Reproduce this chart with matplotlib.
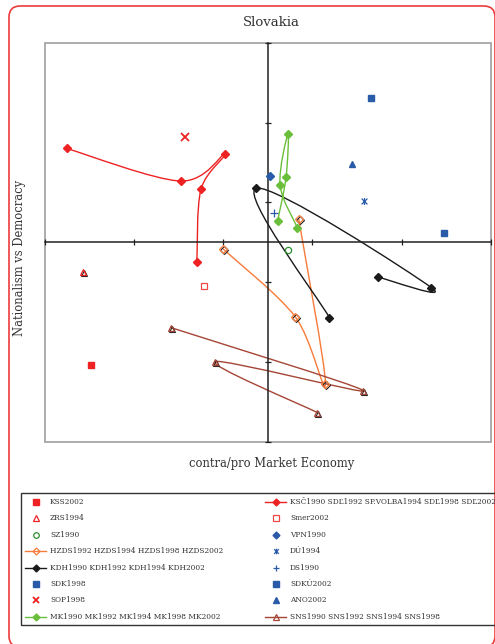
import numpy as np
import matplotlib
matplotlib.use('Agg')
import matplotlib.pyplot as plt
from matplotlib.path import Path
from matplotlib.patches import PathPatch, FancyBboxPatch, Rectangle
from matplotlib.lines import Line2D
from matplotlib import transforms

# ---------------- data ----------------
kss2002 = (-1.98, -1.533)
zrs1994 = (-2.07, -0.374)
sz1990 = (0.23, -0.09)
sdk1998 = (1.155, 1.809)
sop1998 = (-0.935, 1.315)
smer2002 = (-0.721, -0.546)
vpn1990 = (0.028, 0.83)
du1994 = (1.084, 0.517)
ds1990 = (0.073, 0.366)
sdku2002 = (1.98, 0.123)
ano2002 = (0.946, 0.981)

ksc_x = [-2.256, -0.979, -0.481, -0.750, -0.796]
ksc_y = [1.177, 0.769, 1.111, 0.668, -0.241]
hzds_x = [-0.503, 0.306, 0.646, 0.346]
hzds_y = [-0.082, -0.931, -1.775, 0.295]
kdh_x = [0.691, -0.129, 1.834, 1.238]
kdh_y = [-0.944, 0.678, -0.567, -0.437]
mk_x = [0.110, 0.204, 0.227, 0.137, 0.331]
mk_y = [0.274, 0.815, 1.365, 0.720, 0.185]
sns_x = [-1.088, 1.073, -0.593, 0.556]
sns_y = [-1.069, -1.859, -1.496, -2.135]

ticks = [-2.5, -1.5, -0.5, 0.5, 1.5, 2.5]

# ---------------- style ----------------
RED = '#ee2222'
RED2 = '#f04848'
DGREEN = '#2f8f2f'
ORANGE = '#f77b3a'
BLACK = '#1a1a1a'
BLUE = '#2a5ba8'
LGREEN = '#6abf3a'
BROWN = '#a54535'
SERIF = 'DejaVu Serif'

W, H = 495, 644
fig = plt.figure(figsize=(W / 100, H / 100), dpi=100)
ax = fig.add_axes([45 / W, 1 - 441.7 / H, (490.7 - 45) / W, (441.7 - 43) / H])
ax.set_xlim(-2.5, 2.5)
ax.set_ylim(-2.5, 2.5)
for s in ['top', 'right']:
    ax.spines[s].set_visible(False)
ax.spines['left'].set_position(('data', 0))
ax.spines['bottom'].set_position(('data', 0))
for s in ['left', 'bottom']:
    ax.spines[s].set_color('#222222')
    ax.spines[s].set_linewidth(1.1)
ax.set_xticks(ticks)
ax.set_yticks(ticks)
ax.tick_params(direction='inout', length=5, width=0.9, color='#222222',
               labelleft=False, labelbottom=False)
ax.add_patch(Rectangle((0, 0), 1, 1, transform=ax.transAxes, fill=False,
                       ec='#a6a6a6', lw=1.3, clip_on=False, zorder=0.5))

shadow = transforms.offset_copy(ax.transData, fig=fig, x=1.0, y=-1.0, units='dots')


def smooth_path(xs, ys):
    P = np.column_stack([xs, ys]).astype(float)
    n = len(P)
    verts = [P[0]]
    codes = [Path.MOVETO]
    for i in range(n - 1):
        p0 = P[i - 1] if i > 0 else P[i]
        p1 = P[i]
        p2 = P[i + 1]
        p3 = P[i + 2] if i + 2 < n else P[i + 1]
        c1 = p1 + (p2 - p0) / 6.0
        c2 = p2 - (p3 - p1) / 6.0
        verts += [c1, c2, p2]
        codes += [Path.CURVE4] * 3
    return Path(verts, codes)


def smooth_series(xs, ys, color, lw=1.0, **mk):
    ax.add_patch(PathPatch(smooth_path(xs, ys), fill=False, ec=color, lw=lw,
                           zorder=2, clip_on=False))
    ax.plot(xs, ys, ls='none', zorder=3, clip_on=False, **mk)


# lines
smooth_series(ksc_x, ksc_y, RED, lw=1.0, marker='D', ms=4, mfc=RED, mec=RED)
ax.plot(hzds_x, hzds_y, ls='none', marker='D', ms=4.5, mfc='none', mec='#222222',
        mew=0.8, transform=shadow, zorder=2.5)
smooth_series(hzds_x, hzds_y, ORANGE, lw=1.0, marker='D', ms=4.5, mfc='none',
              mec=ORANGE, mew=0.9)
smooth_series(kdh_x, kdh_y, BLACK, lw=1.0, marker='D', ms=4, mfc=BLACK, mec=BLACK)
smooth_series(mk_x, mk_y, LGREEN, lw=1.0, marker='D', ms=4, mfc=LGREEN, mec=LGREEN)
ax.plot(sns_x, sns_y, ls='none', marker='^', ms=5, mfc='none', mec='#222222',
        mew=0.8, transform=shadow, zorder=2.5)
smooth_series(sns_x, sns_y, BROWN, lw=1.0, marker='^', ms=5, mfc='none',
              mec=BROWN, mew=0.9)

# single points
star = Path([(-1, -1), (1, 1), (-1, 1), (1, -1), (0, -1.2), (0, 1.2)],
            [Path.MOVETO, Path.LINETO, Path.MOVETO, Path.LINETO, Path.MOVETO, Path.LINETO])

ax.plot(*kss2002, marker='s', ms=4.5, mfc=RED, mec=RED, ls='none', zorder=3)
ax.plot(*zrs1994, marker='^', ms=5, mfc='none', mec='#222222', mew=0.8, ls='none',
        transform=shadow, zorder=2.5)
ax.plot(*zrs1994, marker='^', ms=5, mfc='none', mec=RED, mew=0.9, ls='none', zorder=3)
ax.plot(*sz1990, marker='o', ms=4.5, mfc='none', mec=DGREEN, mew=0.9, ls='none', zorder=3)
ax.plot(*sdk1998, marker='s', ms=5, mfc=BLUE, mec=BLUE, ls='none', zorder=3)
ax.plot(*sop1998, marker='x', ms=5.5, mec=RED, mew=1.3, ls='none', zorder=3)
ax.plot(*smer2002, marker='s', ms=5, mfc='none', mec=RED2, mew=0.9, ls='none', zorder=3)
ax.plot(*vpn1990, marker='D', ms=4, mfc=BLUE, mec=BLUE, ls='none', zorder=3)
ax.plot(*du1994, marker=star, ms=5, mec=BLUE, mew=0.9, ls='none', zorder=3)
ax.plot(*ds1990, marker='+', ms=6, mec=BLUE, mew=0.9, ls='none', zorder=3)
ax.plot(*sdku2002, marker='s', ms=5, mfc=BLUE, mec=BLUE, ls='none', zorder=3)
ax.plot(*ano2002, marker='^', ms=5, mfc=BLUE, mec=BLUE, ls='none', zorder=3)

# texts
def fx(x):
    return x / W


def fy(y):
    return 1 - y / H


fig.text(fx(271.5), fy(23), 'Slovakia', family=SERIF, size=9.5, color='#333333',
         ha='center', va='center')
fig.text(fx(272), fy(463), 'contra/pro Market Economy', family=SERIF, size=8.3,
         color='#333333', ha='center', va='center')
fig.text(fx(20), fy(258), 'Nationalism vs Democracy', family=SERIF, size=8.3,
         color='#333333', ha='center', va='center', rotation=90)

# outer red rounded border
fig.patches.append(FancyBboxPatch((9, -3), 486, 641,
                                  boxstyle='round,pad=0,rounding_size=11',
                                  transform=transforms.IdentityTransform(),
                                  fill=False, ec='#ee3b3b', lw=1.2, figure=fig))

# legend frame
fig.patches.append(Rectangle((fx(21), fy(625)), fx(520 - 21), (625 - 493.3) / H,
                             transform=fig.transFigure, fill=False, ec='#333333',
                             lw=1.0, figure=fig))

left_col = [
    ('KSS2002', dict(marker='s', ms=4, mfc=RED, mec=RED), None),
    ('ZRS1994', dict(marker='^', ms=4.5, mfc='none', mec=RED, mew=0.9), None),
    ('SZ1990', dict(marker='o', ms=4, mfc='none', mec=DGREEN, mew=0.9), None),
    ('HZDS1992 HZDS1994 HZDS1998 HZDS2002',
     dict(marker='D', ms=3.5, mfc='none', mec=ORANGE, mew=0.9), ORANGE),
    ('KDH1990 KDH1992 KDH1994 KDH2002',
     dict(marker='D', ms=3.5, mfc=BLACK, mec=BLACK), BLACK),
    ('SDK1998', dict(marker='s', ms=4, mfc=BLUE, mec=BLUE), None),
    ('SOP1998', dict(marker='x', ms=5, mec=RED, mew=1.3), None),
    ('MK1990 MK1992 MK1994 MK1998 MK2002',
     dict(marker='D', ms=3.5, mfc=LGREEN, mec=LGREEN), LGREEN),
]
right_col = [
    ('KSČ1990 SDĽ1992 SP.VOLBA1994 SDĽ1998 SDĽ2002',
     dict(marker='D', ms=3.5, mfc=RED, mec=RED), RED),
    ('Smer2002', dict(marker='s', ms=4, mfc='none', mec=RED2, mew=0.9), None),
    ('VPN1990', dict(marker='D', ms=3.5, mfc=BLUE, mec=BLUE), None),
    ('DÚ1994', dict(marker=star, ms=4, mec=BLUE, mew=0.9), None),
    ('DS1990', dict(marker='+', ms=5, mec=BLUE, mew=0.9), None),
    ('SDKÚ2002', dict(marker='s', ms=4.5, mfc=BLUE, mec=BLUE), None),
    ('ANO2002', dict(marker='^', ms=4.5, mfc=BLUE, mec=BLUE), None),
    ('SNS1990 SNS1992 SNS1994 SNS1998',
     dict(marker='^', ms=4.5, mfc='none', mec=BROWN, mew=0.9), BROWN),
]
rows_y = [502, 518.3, 534.6, 551, 567.5, 584, 600.4, 616.8]

for col, x0 in [(left_col, 25), (right_col, 265)]:
    for (label, mk, lc), yy in zip(col, rows_y):
        xm = x0 + 11
        if lc is not None:
            fig.lines.append(Line2D([fx(x0), fx(x0 + 21)], [fy(yy), fy(yy)],
                                    color=lc, lw=1.0, transform=fig.transFigure,
                                    figure=fig))
        fig.lines.append(Line2D([fx(xm)], [fy(yy)], ls='none',
                                transform=fig.transFigure, figure=fig, **mk))
        fig.text(fx(x0 + 25), fy(yy), label, family=SERIF, size=5.35,
                 color='#333333', ha='left', va='center')

fig.savefig('out.png', dpi=100)
